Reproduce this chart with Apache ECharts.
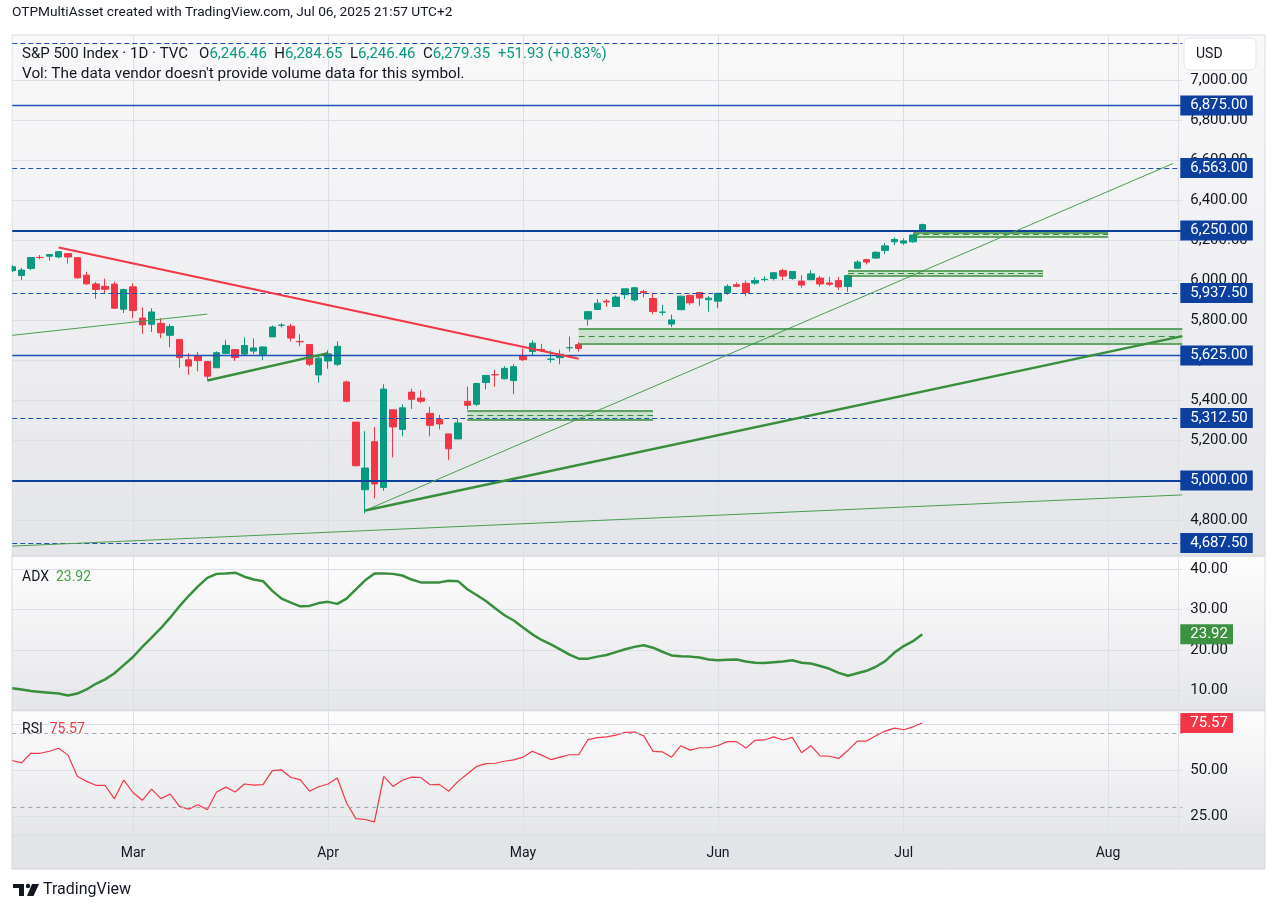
<!DOCTYPE html>
<html>
<head>
<meta charset="utf-8">
<title>S&amp;P 500 Index 1D</title>
<script src="https://cdn.jsdelivr.net/npm/echarts@6/dist/echarts.min.js"></script>
<style>
  html, body { margin: 0; background: #fff; }
  #chart { width: 1274px; height: 913px; }
</style>
</head>
<body>
<div id="chart"></div>
<script>
// trading days shown (the bars after Jul 3 are empty future slots)
const dates = [
  "2025-02-11","2025-02-12","2025-02-13","2025-02-14","2025-02-18","2025-02-19","2025-02-20","2025-02-21","2025-02-24","2025-02-25","2025-02-26","2025-02-27","2025-02-28",
  "2025-03-03","2025-03-04","2025-03-05","2025-03-06","2025-03-07","2025-03-10","2025-03-11","2025-03-12","2025-03-13","2025-03-14","2025-03-17","2025-03-18","2025-03-19","2025-03-20","2025-03-21","2025-03-24","2025-03-25","2025-03-26","2025-03-27","2025-03-28","2025-03-31",
  "2025-04-01","2025-04-02","2025-04-03","2025-04-04","2025-04-07","2025-04-08","2025-04-09","2025-04-10","2025-04-11","2025-04-14","2025-04-15","2025-04-16","2025-04-17","2025-04-21","2025-04-22","2025-04-23","2025-04-24","2025-04-25","2025-04-28","2025-04-29","2025-04-30",
  "2025-05-01","2025-05-02","2025-05-05","2025-05-06","2025-05-07","2025-05-08","2025-05-09","2025-05-12","2025-05-13","2025-05-14","2025-05-15","2025-05-16","2025-05-19","2025-05-20","2025-05-21","2025-05-22","2025-05-23","2025-05-27","2025-05-28","2025-05-29","2025-05-30",
  "2025-06-02","2025-06-03","2025-06-04","2025-06-05","2025-06-06","2025-06-09","2025-06-10","2025-06-11","2025-06-12","2025-06-13","2025-06-16","2025-06-17","2025-06-18","2025-06-20","2025-06-23","2025-06-24","2025-06-25","2025-06-26","2025-06-27","2025-06-30",
  "2025-07-01","2025-07-02","2025-07-03",
  "2025-07-07","2025-07-08","2025-07-09","2025-07-10","2025-07-11","2025-07-14","2025-07-15","2025-07-16","2025-07-17","2025-07-18","2025-07-21","2025-07-22","2025-07-23","2025-07-24","2025-07-25","2025-07-28","2025-07-29","2025-07-30","2025-07-31",
  "2025-08-01","2025-08-04","2025-08-05","2025-08-06","2025-08-07","2025-08-08","2025-08-11","2025-08-12","2025-08-13"
];

const opens = [6049.3,6025.1,6060.6,6115.5,6121.6,6117.8,6134.5,6114.1,6026.7,5982.7,5970.9,5981.9,5856.7,
  5968.3,5812.0,5781.4,5785.9,5726.0,5705.4,5603.7,5624.8,5594.5,5563.9,5635.6,5654.5,5632.4,5646.9,5630.7,5718.1,5775.9,5771.7,5695.6,5679.7,5527.9,
  5597.5,5580.8,5492.7,5292.1,4953.8,5193.6,4965.3,5353.2,5255.6,5442.0,5412.0,5335.8,5305.5,5232.9,5207.7,5395.9,5381.4,5489.7,5529.2,5508.9,5499.4,
  5625.1,5645.2,5655.3,5606.2,5614.0,5663.8,5679.6,5807.0,5854.9,5896.7,5870.6,5929.3,5902.9,5944.7,5910.0,5841.3,5781.9,5854.1,5925.5,5939.9,5903.7,
  5896.7,5938.6,5978.9,5985.7,5987.1,6004.6,6009.9,6049.4,6009.9,5997.0,6004.0,6012.2,5987.9,5999.7,5969.7,6061.2,6104.2,6112.1,6150.7,6193.4,
  6187.3,6193.5,6246.46];
const highs = [6076.3,6063.9,6116.9,6127.5,6129.6,6147.4,6134.5,6114.8,6043.7,5992.7,6009.8,5993.7,5959.4,
  5986.1,5865.1,5860.6,5812.1,5783.0,5705.4,5636.3,5642.2,5597.8,5645.3,5703.5,5654.5,5715.3,5711.2,5670.8,5775.1,5786.9,5783.6,5732.3,5681.1,5627.6,
  5650.6,5695.3,5499.5,5292.1,5246.6,5267.5,5481.3,5353.2,5381.5,5459.5,5450.4,5367.2,5328.3,5232.9,5309.6,5469.7,5489.4,5528.1,5553.7,5572.0,5581.8,
  5658.9,5700.7,5683.5,5649.6,5654.3,5720.1,5691.7,5844.2,5906.6,5906.9,5924.7,5958.6,5968.6,5953.1,5938.6,5878.1,5829.5,5924.3,5929.0,5943.1,5922.1,
  5937.4,5981.4,5990.5,5999.7,6016.9,6021.3,6043.0,6059.4,6045.4,6026.2,6050.8,6023.3,6018.3,6018.2,6028.8,6101.8,6108.5,6146.5,6187.7,6215.1,
  6210.8,6227.6,6284.65];
const lows = [6042.3,6003.0,6051.0,6107.6,6099.5,6111.2,6084.6,6008.6,5977.8,5908.5,5932.7,5858.8,5837.7,
  5810.9,5732.6,5742.4,5711.6,5666.3,5564.0,5528.4,5546.1,5504.7,5563.9,5631.1,5597.8,5622.2,5632.3,5603.1,5718.1,5764.8,5695.2,5670.9,5572.4,5488.7,
  5558.5,5571.5,5390.8,5069.9,4835.0,4910.4,4948.4,5115.3,5220.8,5358.0,5386.4,5220.8,5255.6,5101.6,5207.7,5356.4,5372.0,5455.9,5468.6,5505.7,5433.2,
  5597.4,5622.8,5644.6,5589.1,5581.6,5644.7,5644.1,5775.2,5853.2,5868.5,5867.4,5907.4,5895.7,5915.6,5830.9,5825.8,5767.4,5854.1,5878.1,5873.8,5843.7,
  5861.4,5929.0,5966.1,5921.2,5978.6,5994.2,6000.3,6002.3,6003.9,5963.2,6004.0,5968.6,5971.9,5952.6,5943.2,6056.5,6080.1,6107.3,6132.3,6178.0,
  6178.0,6188.3,6246.46];
const closes = [6068.5,6051.97,6115.07,6114.63,6129.58,6144.15,6117.52,6013.13,5983.25,5955.25,5956.06,5861.57,5954.50,
  5849.72,5778.15,5842.63,5738.52,5770.20,5614.56,5572.07,5599.30,5521.52,5638.94,5675.12,5614.66,5675.29,5662.89,5667.56,5767.57,5776.65,5712.20,5693.31,5580.94,5611.85,
  5633.07,5670.97,5396.52,5074.08,5062.25,4982.77,5456.90,5268.05,5363.36,5405.97,5396.63,5275.70,5282.70,5158.20,5287.76,5375.86,5484.77,5525.21,5528.75,5560.83,5569.06,
  5604.14,5686.67,5650.38,5606.91,5631.28,5663.94,5659.91,5844.19,5886.55,5892.58,5916.93,5958.38,5963.60,5940.46,5844.61,5842.01,5802.82,5921.54,5888.55,5912.17,5911.69,
  5935.94,5970.37,5970.81,5939.30,6000.36,6005.88,6038.81,6022.24,6045.26,5976.97,6033.11,5982.72,5980.87,5967.84,6025.17,6092.18,6092.16,6141.02,6173.07,6204.95,
  6198.01,6227.42,6279.35];

const adx = [10.6,10.3,9.9,9.7,9.5,9.3,8.8,9.3,10.3,11.7,12.8,14.3,16.3,18.3,20.8,23.1,25.4,28.0,30.8,33.4,35.7,37.8,38.8,38.9,39.1,38.1,37.4,37.0,34.6,32.7,31.7,30.8,30.9,31.6,31.9,31.4,32.7,35.0,37.2,38.9,
  38.9,38.8,38.4,37.4,36.7,36.7,36.7,37.1,37.0,35.0,33.6,32.1,30.3,28.6,27.3,25.6,23.9,22.5,21.4,20.2,18.9,17.9,17.9,18.4,18.8,19.5,20.2,20.8,21.2,20.6,
  19.6,18.7,18.5,18.4,18.2,17.7,17.5,17.6,17.7,17.2,16.9,16.8,17.0,17.2,17.5,16.9,16.7,16.1,15.4,14.4,13.7,14.3,14.9,15.9,17.3,19.4,21.0,22.2,23.92];

const rsi = [55.3,54.0,59.2,59.2,60.3,61.9,58.2,46.8,44.0,41.9,41.8,34.6,44.7,38.0,33.8,39.8,34.7,37.2,30.5,29.0,31.4,28.7,38.3,40.9,38.3,42.6,42.0,42.3,49.8,50.2,
  46.1,45.0,38.7,41.1,42.6,45.8,32.3,23.9,23.4,22.1,46.7,41.3,44.6,46.3,46.1,42.2,42.4,38.7,44.0,48.0,52.1,53.6,53.8,54.9,55.6,57.1,60.3,58.2,55.8,57.1,
  58.4,58.4,66.6,67.7,68.1,69.0,70.5,70.7,68.6,60.2,60.0,57.1,63.3,60.9,62.2,62.2,63.4,65.5,65.5,62.0,66.2,66.4,68.1,66.4,67.8,59.5,63.3,57.8,57.6,56.4,
  60.8,65.8,65.8,68.7,71.2,72.8,71.9,73.5,75.57];

// axis ticks
const priceTicks = [4800, 5000, 5200, 5400, 5600, 5800, 6000, 6200, 6400, 6600, 6800, 7000];
const adxTicks = [10, 20, 30, 40];
const rsiTicks = [25, 50, 75];
const rsiBands = [70, 30];

// horizontal levels
const thickLevels = [6250, 5000];
const thinLevels = [6875, 5625];
const dashedLevels = [7187.5, 6563, 5937.5, 5312.5, 4687.5];
const unlabeledLevels = [7187.5];

// trend lines: [start date, start price, end date, end price, style]
const trendLines = [
  ["2025-02-19", 6165, "2025-05-09", 5609, "red"],
  ["2025-02-11", 5726, "2025-03-13", 5832, "thin"],
  ["2025-03-13", 5500, "2025-04-01", 5637, "thick"],
  ["2025-04-07", 4850, "2025-08-12", 6585, "thin"],
  ["2025-04-07", 4850, "2025-08-13", 5722, "thick"],
  ["2025-02-11", 4672, "2025-08-13", 4928, "thin"]
];

// parallel channels: [start date, end date, upper price, lower price]
const channels = [
  ["2025-04-23", "2025-05-21", 5351, 5306],
  ["2025-05-09", "2025-08-13", 5761, 5686],
  ["2025-06-23", "2025-07-23", 6047, 6026],
  ["2025-07-02", "2025-08-01", 6241, 6219]
];

const UP = "#089981", DOWN = "#f23645", LEVEL = "#0d3f9e", LEVEL_LINE = "#1f50b3", GREEN = "#388e3c";
const FONT = "Roboto";
const MONTHS = ["Jan","Feb","Mar","Apr","May","Jun","Jul","Aug","Sep","Oct","Nov","Dec"];
const fmt2 = v => Number(v).toLocaleString("en-US", {minimumFractionDigits: 2, maximumFractionDigits: 2});
const isMonthStart = i => i > 0 && dates[i].slice(5, 7) !== dates[i - 1].slice(5, 7);

const candleData = opens.map((o, i) => [o, closes[i], lows[i], highs[i]]);

// price boxes on the axis
const boxLabel = (bg, fmt) => ({
  show: true, position: "end", distance: -2, formatter: fmt,
  backgroundColor: bg, color: "#fff", fontSize: 15, fontFamily: FONT,
  padding: [3, 5, 2, 10]
});
const levelData = [];
thickLevels.forEach(v => levelData.push({yAxis: v, lineStyle: {color: LEVEL, width: 2, type: "solid"}}));
thinLevels.forEach(v => levelData.push({yAxis: v, lineStyle: {color: LEVEL_LINE, width: 1.4, type: "solid"}}));
dashedLevels.forEach(v => levelData.push({yAxis: v, lineStyle: {color: LEVEL_LINE, width: 1.2, type: [5, 3]}}));
levelData.forEach(d => {
  d.label = unlabeledLevels.includes(d.yAxis) ? {show: false} : boxLabel(LEVEL, p => fmt2(p.value));
});

const trendStyles = {
  red: {color: DOWN, width: 2, type: "solid"},
  thick: {color: GREEN, width: 2.5, type: "solid"},
  thin: {color: "#4a9e4e", width: 1, type: "solid"}
};
const drawLines = trendLines.map(t => [
  {coord: [t[0], t[1]], lineStyle: trendStyles[t[4]]},
  {coord: [t[2], t[3]]}
]);
channels.forEach(c => {
  const mid = (c[2] + c[3]) / 2;
  drawLines.push([{coord: [c[0], c[2]], lineStyle: {color: GREEN, width: 1.5, type: "solid"}}, {coord: [c[1], c[2]]}]);
  drawLines.push([{coord: [c[0], c[3]], lineStyle: {color: GREEN, width: 1.5, type: "solid"}}, {coord: [c[1], c[3]]}]);
  drawLines.push([{coord: [c[0], mid], lineStyle: {color: GREEN, width: 1, type: [6, 4]}}, {coord: [c[1], mid]}]);
});
const fillAreas = channels.map(c => [{coord: [c[0], c[2]]}, {coord: [c[1], c[3]]}]);

const n = closes.length;
const chg = closes[n - 1] - closes[n - 2];
const pct = chg / closes[n - 2] * 100;
const sign = v => (v >= 0 ? "+" : "") + v.toFixed(2);

const xAxisFor = (g, labels) => ({
  type: "category", gridIndex: g, data: dates, boundaryGap: false,
  axisLine: {show: false}, axisTick: {show: false},
  axisLabel: {
    show: labels, interval: i => isMonthStart(i),
    formatter: v => MONTHS[+v.slice(5, 7) - 1],
    color: "#131722", fontSize: 14, fontFamily: FONT, margin: 11
  },
  splitLine: {show: true, interval: i => isMonthStart(i), lineStyle: {color: "#dcdfe5", width: 1}}
});
const yAxisFor = (g, min, max, ticks, fmt) => ({
  type: "value", gridIndex: g, position: "right", min: min, max: max,
  axisLine: {show: false},
  axisTick: {show: false, customValues: ticks},
  axisLabel: {customValues: ticks, formatter: fmt, color: "#131722", fontSize: 15, fontFamily: FONT, margin: 8},
  splitLine: {show: true, lineStyle: {color: "#dcdfe5", width: 1}}
});

const paneGrad = (c1, c2) => ({type: "linear", x: 0, y: 0, x2: 0, y2: 1, colorStops: [{offset: 0, color: c1}, {offset: 1, color: c2}]});
const border = "#d6d8de";
const GL = 12.3, GW = 1170;

const chart = echarts.init(document.getElementById("chart"));
chart.setOption({
  animation: false,
  backgroundColor: "#ffffff",
  textStyle: {fontFamily: FONT},
  grid: [
    {left: GL, top: 35, width: GW, height: 520},
    {left: GL, top: 557, width: GW, height: 153},
    {left: GL, top: 711, width: GW, height: 124}
  ],
  xAxis: [xAxisFor(0, false), xAxisFor(1, false), xAxisFor(2, true)],
  yAxis: [
    yAxisFor(0, 4627.5, 7227.5, priceTicks, fmt2),
    yAxisFor(1, 5.24, 42.96, adxTicks, fmt2),
    yAxisFor(2, 15.03, 82.05, rsiTicks, fmt2)
  ],
  graphic: [
    // pane backgrounds
    {type: "rect", z: -100, shape: {x: 12, y: 35, width: 1253, height: 521}, style: {fill: paneGrad("#f9f9fa", "#e4e5e9")}},
    {type: "rect", z: -100, shape: {x: 12, y: 556, width: 1253, height: 154}, style: {fill: paneGrad("#fdfdfd", "#e5e6e9")}},
    {type: "rect", z: -100, shape: {x: 12, y: 710, width: 1253, height: 125}, style: {fill: paneGrad("#fdfdfd", "#e5e6e9")}},
    {type: "rect", z: -100, shape: {x: 12, y: 835, width: 1253, height: 34}, style: {fill: "#e3e4e8"}},
    // pane borders
    {type: "rect", z: -90, shape: {x: 12, y: 35, width: 1253, height: 834}, style: {fill: null, stroke: border, lineWidth: 1}},
    {type: "line", z: -90, shape: {x1: 12, y1: 556, x2: 1265, y2: 556}, style: {stroke: border, lineWidth: 1.5}},
    {type: "line", z: -90, shape: {x1: 12, y1: 710.5, x2: 1265, y2: 710.5}, style: {stroke: border, lineWidth: 1.5}},
    {type: "line", z: -90, shape: {x1: 12, y1: 835, x2: 1265, y2: 835}, style: {stroke: border, lineWidth: 1}},
    {type: "line", z: -90, shape: {x1: 1178.5, y1: 35, x2: 1178.5, y2: 869}, style: {stroke: "#dfe1e6", lineWidth: 1}},
    // the first bar is cut by the left pane edge
    {type: "rect", zlevel: 1, z: 1000, silent: true, shape: {x: 0, y: 36, width: 11.6, height: 520}, style: {fill: "#ffffff"}},
    // header
    {type: "text", x: 12, y: 13, style: {text: "OTPMultiAsset created with TradingView.com, Jul 06, 2025 21:57 UTC+2", font: "13.7px Roboto", fill: "#131722", verticalAlign: "middle"}},
    {type: "text", x: 22, y: 54, z: 50, style: {
      text: "{n|S&P 500 Index · 1D · TVC}   {n|O}{v|" + fmt2(opens[n - 1]) + "}  {n|H}{v|" + fmt2(highs[n - 1]) +
            "}  {n|L}{v|" + fmt2(lows[n - 1]) + "}  {n|C}{v|" + fmt2(closes[n - 1]) + "}  {v|" + sign(chg) + " (" + sign(pct) + "%)}",
      font: "15px Roboto", verticalAlign: "middle", fill: "#131722",
      rich: {n: {fill: "#131722", font: "15px Roboto"}, v: {fill: UP, font: "15px Roboto"}}
    }},
    {type: "text", x: 22, y: 74, z: 50, style: {text: "Vol: The data vendor doesn't provide volume data for this symbol.", font: "15.3px Roboto", fill: "#131722", verticalAlign: "middle"}},
    {type: "text", x: 22, y: 577, z: 50, style: {
      text: "{n|ADX}  {g|" + fmt2(adx[n - 1]) + "}", verticalAlign: "middle", font: "14px Roboto",
      rich: {n: {fill: "#131722", font: "14px Roboto"}, g: {fill: "#43a047", font: "14px Roboto"}}
    }},
    {type: "text", x: 22, y: 729, z: 50, style: {
      text: "{n|RSI}  {r|" + fmt2(rsi[n - 1]) + "}", verticalAlign: "middle", font: "14px Roboto",
      rich: {n: {fill: "#131722", font: "14px Roboto"}, r: {fill: DOWN, font: "14px Roboto"}}
    }},
    // currency box
    {type: "rect", z: 60, shape: {x: 1184, y: 38, width: 72, height: 32, r: 5}, style: {fill: "#ffffff", stroke: "#e0e3eb", lineWidth: 1}},
    {type: "text", x: 1196, y: 54.5, z: 61, style: {text: "USD", font: "14px Roboto", fill: "#131722", verticalAlign: "middle"}},
    // logo
    {type: "rect", shape: {x: 13, y: 884, width: 11, height: 4}, style: {fill: "#131722"}},
    {type: "rect", shape: {x: 19, y: 884, width: 5, height: 12}, style: {fill: "#131722"}},
    {type: "circle", shape: {cx: 28, cy: 886, r: 2.2}, style: {fill: "#131722"}},
    {type: "polygon", shape: {points: [[32, 884], [39, 884], [33.5, 896], [27, 896]]}, style: {fill: "#131722"}},
    {type: "text", x: 43, y: 890, style: {text: "TradingView", font: "16px Roboto", fill: "#131722", verticalAlign: "middle"}}
  ],
  series: [
    {
      type: "candlestick", name: "S&P 500", xAxisIndex: 0, yAxisIndex: 0,
      data: candleData, barWidth: 7, clip: true,
      itemStyle: {color: UP, color0: DOWN, borderColor: UP, borderColor0: DOWN, borderWidth: 1}
    },
    {
      type: "line", name: "levels", xAxisIndex: 0, yAxisIndex: 0, data: [], clip: false, z: 4,
      markLine: {silent: true, symbol: ["none", "none"], data: levelData}
    },
    {
      type: "line", name: "drawings", xAxisIndex: 0, yAxisIndex: 0, data: [], clip: false, z: 3,
      markLine: {silent: true, symbol: ["none", "none"], label: {show: false}, data: drawLines},
      markArea: {silent: true, itemStyle: {color: "rgba(76,175,80,0.2)"}, label: {show: false}, data: fillAreas}
    },
    {
      type: "line", name: "ADX", xAxisIndex: 1, yAxisIndex: 1, data: adx, showSymbol: false, clip: false,
      lineStyle: {color: GREEN, width: 2.5},
      markLine: {silent: true, symbol: ["none", "none"],
        data: [{yAxis: adx[n - 1], lineStyle: {color: "transparent"}, label: boxLabel("#3d9142", p => fmt2(p.value))}]}
    },
    {
      type: "line", name: "RSI", xAxisIndex: 2, yAxisIndex: 2, data: rsi, showSymbol: false, clip: false,
      lineStyle: {color: "#f23645", width: 1.2},
      markLine: {silent: true, symbol: ["none", "none"],
        data: rsiBands.map(v => ({yAxis: v, lineStyle: {color: "#a5a8b1", width: 1, type: [4, 4]}, label: {show: false}}))
          .concat([{yAxis: rsi[n - 1], lineStyle: {color: "transparent"}, label: boxLabel("#f23645", p => fmt2(p.value))}])}
    }
  ]
});
</script>
</body>
</html>
